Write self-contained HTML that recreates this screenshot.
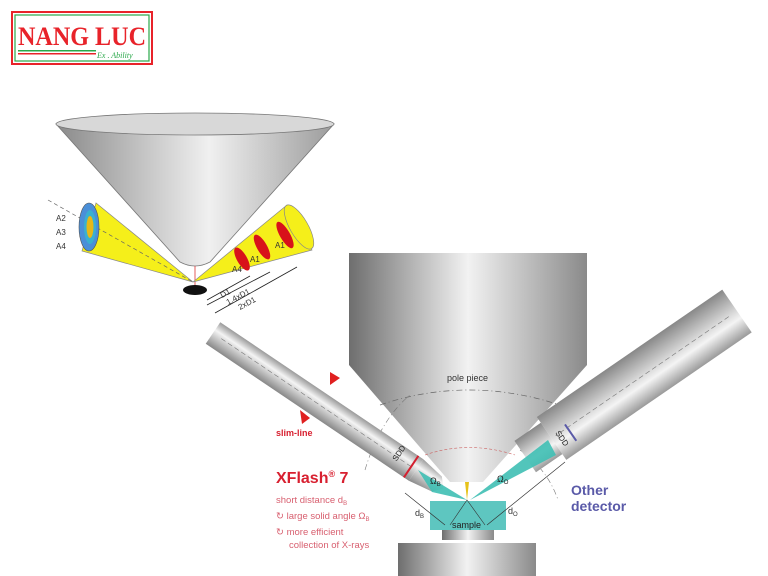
<!DOCTYPE html>
<html><head><meta charset="utf-8"><style>
html,body{margin:0;padding:0;background:#fff;}
svg{display:block;font-family:"Liberation Sans",sans-serif;}
</style></head><body>
<svg width="768" height="576" viewBox="0 0 768 576" xmlns="http://www.w3.org/2000/svg">
<defs>
<linearGradient id="gh" x1="0" x2="1" y1="0" y2="0">
<stop offset="0" stop-color="#6e6e6e"/><stop offset="0.5" stop-color="#f2f2f2"/><stop offset="1" stop-color="#8a8a8a"/>
</linearGradient>
<linearGradient id="gt" x1="0" x2="0" y1="0" y2="1">
<stop offset="0" stop-color="#9a9a9a"/><stop offset="0.35" stop-color="#f4f4f4"/><stop offset="1" stop-color="#888"/>
</linearGradient>
<linearGradient id="gc" x1="0" x2="1" y1="0" y2="0">
<stop offset="0" stop-color="#8a8a8a"/><stop offset="0.55" stop-color="#f0f0f0"/><stop offset="1" stop-color="#9c9c9c"/>
</linearGradient>
</defs>

<!-- logo -->
<rect x="12" y="12" width="140" height="52" fill="#fff" stroke="#e8232a" stroke-width="2"/>
<rect x="15" y="15" width="134" height="46" fill="none" stroke="#2aa84a" stroke-width="1.2"/>
<text x="18" y="45" font-size="26" font-weight="bold" fill="#e8232a" font-family="Liberation Serif,serif" textLength="128" lengthAdjust="spacingAndGlyphs">NANG LUC</text>
<rect x="18" y="50" width="78" height="1.5" fill="#2aa84a"/><rect x="18" y="53" width="78" height="1.5" fill="#e8232a"/>
<text x="97" y="58" font-size="8" fill="#2aa84a" font-family="Liberation Serif,serif" font-style="italic">Ex . Ability</text>

<!-- top cone -->
<path d="M56,124 L180,262 Q195,270 210,262 L334,124 Z" fill="url(#gc)" stroke="#777" stroke-width="0.8"/>
<ellipse cx="195" cy="124" rx="139" ry="11" fill="#d8d8d8" stroke="#777" stroke-width="0.8"/>
<line x1="195" y1="266" x2="195" y2="286" stroke="#d33" stroke-width="0.8"/>
<!-- left yellow cone -->
<path d="M193,282 L96,203 L82,251 Z" fill="#f5ef1a" stroke="#888" stroke-width="0.7"/>
<line x1="48" y1="200" x2="193" y2="282" stroke="#666" stroke-dasharray="4,3" stroke-width="0.7"/>
<ellipse cx="89" cy="227" rx="10" ry="24" fill="#4a8fd8" stroke="#555" stroke-width="0.6"/>
<ellipse cx="90" cy="227" rx="6" ry="17" fill="#3ab0d0"/>
<ellipse cx="90" cy="227" rx="3.5" ry="11" fill="#e6b817"/>
<text x="56" y="221" font-size="8" fill="#333">A2</text>
<text x="56" y="235" font-size="8" fill="#333">A3</text>
<text x="56" y="249" font-size="8" fill="#333">A4</text>
<!-- right yellow cone -->
<path d="M193,282 L287,205 L312,250 Z" fill="#f5ef1a" stroke="#888" stroke-width="0.7"/>
<ellipse cx="299" cy="227" rx="9" ry="25" transform="rotate(-30 299 227)" fill="#f5ef1a" stroke="#888" stroke-width="0.7"/>
<ellipse cx="242" cy="259" rx="5" ry="13" transform="rotate(-30 242 259)" fill="#d8121a"/>
<ellipse cx="262" cy="247" rx="5" ry="14" transform="rotate(-30 262 247)" fill="#d8121a"/>
<ellipse cx="285" cy="235" rx="5" ry="15" transform="rotate(-30 285 235)" fill="#d8121a"/>
<text x="232" y="272" font-size="8" fill="#333">A4</text>
<text x="250" y="262" font-size="8" fill="#333">A1</text>
<text x="275" y="248" font-size="8" fill="#333">A1</text>
<ellipse cx="195" cy="290" rx="12" ry="5" fill="#111"/>
<!-- D arrows -->
<g stroke="#222" stroke-width="0.8" fill="#222">
<line x1="207" y1="300" x2="250" y2="276"/><line x1="207" y1="305" x2="270" y2="272"/><line x1="215" y1="313" x2="297" y2="267"/>
</g>
<text x="222" y="298" font-size="8" fill="#333" transform="rotate(-28 222 298)">D1</text>
<text x="228" y="305" font-size="8" fill="#333" transform="rotate(-28 228 305)">1.4xD1</text>
<text x="240" y="310" font-size="8" fill="#333" transform="rotate(-28 240 310)">2xD1</text>

<!-- big column -->
<rect x="349" y="253" width="238" height="112" fill="url(#gh)"/>
<path d="M349,365 L587,365 L483,482 L450,482 Z" fill="url(#gh)"/>
<path d="M380,405 Q468,375 560,405" fill="none" stroke="#666" stroke-dasharray="6,3,1,3" stroke-width="0.7"/>
<path d="M425,455 Q468,440 515,455" fill="none" stroke="#c66" stroke-dasharray="3,2" stroke-width="0.6"/>
<text x="447" y="381" font-size="9" fill="#333">pole piece</text>
<path d="M365,470 Q380,420 410,395" fill="none" stroke="#777" stroke-dasharray="6,3,1,3" stroke-width="0.6"/>
<path d="M520,450 Q548,470 558,500" fill="none" stroke="#777" stroke-dasharray="6,3,1,3" stroke-width="0.6"/>
<polygon points="465,482 469,482 467,500" fill="#e6c21a"/>

<!-- left tube -->
<g transform="translate(213,333) rotate(34)">
<rect x="0" y="-13" width="245" height="26" fill="url(#gt)"/>
<path d="M245,-13 L270,-9 L278,0 L270,9 L245,13 Z" fill="url(#gt)"/>
<line x1="10" y1="0" x2="240" y2="0" stroke="#777" stroke-dasharray="5,3" stroke-width="0.6"/>
<rect x="238" y="-13" width="2" height="26" fill="#d42030"/>
<text x="222" y="-2" font-size="8" fill="#222" transform="rotate(-90 226 0)">SDD</text>
</g>
<!-- right tube -->
<g transform="translate(737,311) rotate(145.5)">
<rect x="0" y="-26" width="225" height="52" fill="url(#gt)"/>
<rect x="225" y="-19" width="32" height="38" fill="url(#gt)"/>
<line x1="10" y1="0" x2="220" y2="0" stroke="#777" stroke-dasharray="5,3" stroke-width="0.6"/>
<rect x="205" y="-16" width="2" height="20" fill="#5a5aa8"/>
</g>
<text x="555" y="433" font-size="8" fill="#222" transform="rotate(55 555 433)">SDD</text>
<!-- teal beams -->
<polygon points="418,470 432,492 467,500" fill="#3fbfb4" opacity="0.9"/>
<polygon points="548,440 556,455 470,500" fill="#3fbfb4" opacity="0.9"/>
<text x="430" y="484" font-size="9" fill="#222">Ω<tspan font-size="6" dy="2">B</tspan></text>
<text x="497" y="482" font-size="9" fill="#222">Ω<tspan font-size="6" dy="2">O</tspan></text>

<!-- sample & stage -->
<rect x="430" y="501" width="76" height="29" fill="#5ec6c0"/>
<polyline points="450,525 467,500 485,525" fill="none" stroke="#333" stroke-width="0.6"/>
<text x="452" y="528" font-size="9" fill="#222">sample</text>
<rect x="442" y="530" width="52" height="10" fill="url(#gh)"/>
<rect x="398" y="543" width="138" height="33" fill="url(#gh)"/>

<!-- distance lines -->
<g stroke="#333" stroke-width="0.7">
<line x1="405" y1="493" x2="445" y2="525"/>
<line x1="565" y1="462" x2="487" y2="525"/>
</g>
<text x="415" y="516" font-size="9" fill="#333">d<tspan font-size="6" dy="2">B</tspan></text>
<text x="508" y="514" font-size="9" fill="#333">d<tspan font-size="6" dy="2">O</tspan></text>

<!-- labels -->
<polygon points="330,372 340,378 330,385" fill="#e02020"/>
<polygon points="300,410 310,418 302,424" fill="#e02020"/>
<text x="276" y="436" font-size="9" font-weight="bold" fill="#d82030">slim-line</text>
<text x="276" y="483" font-size="16" font-weight="bold" fill="#d82030">XFlash<tspan font-size="9" dy="-6">®</tspan><tspan dy="6"> 7</tspan></text>
<text x="276" y="503" font-size="9.5" fill="#d86070">short distance d<tspan font-size="6" dy="2">B</tspan></text>
<text x="276" y="519" font-size="9.5" fill="#d86070">↻ large solid angle Ω<tspan font-size="6" dy="2">B</tspan></text>
<text x="276" y="535" font-size="9.5" fill="#d86070">↻ more efficient</text>
<text x="289" y="548" font-size="9.5" fill="#d86070">collection of X-rays</text>
<text x="571" y="495" font-size="14" font-weight="bold" fill="#5a5aa8">Other</text>
<text x="571" y="511" font-size="14" font-weight="bold" fill="#5a5aa8">detector</text>
</svg>
</body></html>
